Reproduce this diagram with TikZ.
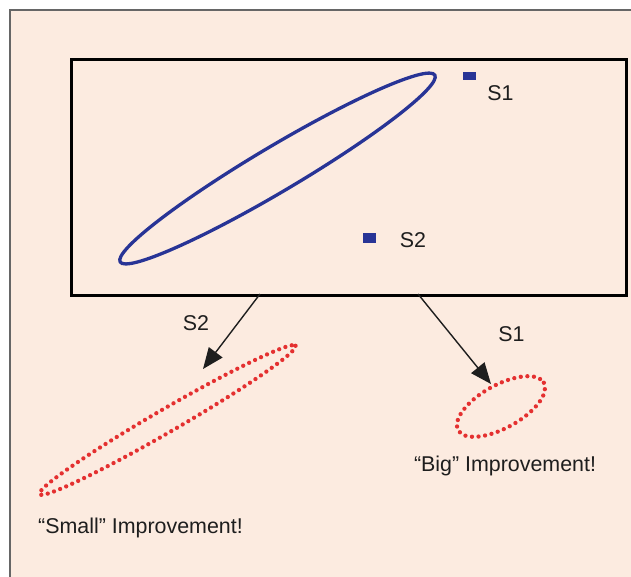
\documentclass[tikz,border=0pt]{standalone}
\usepackage{fontspec}
\setmainfont{Liberation Sans}
\usetikzlibrary{arrows.meta,shapes.geometric}
\definecolor{peach}{RGB}{252,235,224}
\definecolor{navy}{RGB}{40,52,150}
\definecolor{dotred}{RGB}{228,48,48}
\definecolor{ink}{RGB}{30,30,30}
\tikzset{
  lbl/.style={text=ink,font=\fontsize{21.4}{25}\selectfont,inner sep=0pt},
  blueline/.style={draw=navy,line width=3.3pt},
  dotline/.style={draw=dotred,line width=4.3pt,line cap=round,dash pattern=on 0pt off 6.6pt},
  marker/.style={fill=navy,draw=none},
  arr/.style={draw=ink,line width=1.4pt,-{Triangle[length=21pt,width=17pt]}},
}
\begin{document}
\begin{tikzpicture}[x=1pt,y=-1pt]
\useasboundingbox (0,0) rectangle (631,576);
\fill[white] (0,0) rectangle (631,576);
\begin{scope}
\clip (0,0) rectangle (631,576);
\draw[draw=black!60,line width=1.4pt,fill=peach] (10,10) rectangle (660,600);
\end{scope}
% inner box
\node[draw=black,line width=2.8pt,minimum width=555pt,minimum height=236pt,inner sep=0pt,anchor=north west] (box) at (70,58) {};
% blue ellipse
\draw[blueline] (277.5,168.5) ellipse[x radius=183, y radius=22.5, rotate=30.7];
% markers
\node[marker,minimum width=13pt,minimum height=8pt,inner sep=0pt] (m1) at (469.5,76) {};
\node[marker,minimum width=13pt,minimum height=10pt,inner sep=0pt] (m2) at (369.5,238) {};
\node[lbl] (s1) at (500.5,93) {S1};
\node[lbl] (s2) at (413,240) {S2};
% red dotted ellipses
\draw[dotline] (167.5,420) ellipse[x radius=148, y radius=11.5, rotate=30.1];
\draw[dotline] (501,406.5) ellipse[x radius=49, y radius=21.5, rotate=29];
% arrows
\coordinate (a2s) at (260,294);
\coordinate (a2e) at (203,369);
\coordinate (a1s) at (418,294);
\coordinate (a1e) at (491,384);
\draw[arr] (a2s) -- (a2e);
\draw[arr] (a1s) -- (a1e);
\node[lbl] (l2) at (196,323) {S2};
\node[lbl] (l1) at (511.5,334) {S1};
% captions
\node[lbl] (big) at (505,466) {“Big” Improvement!};
\node[lbl] (small) at (140.5,528) {“Small” Improvement!};
\end{tikzpicture}
\end{document}
